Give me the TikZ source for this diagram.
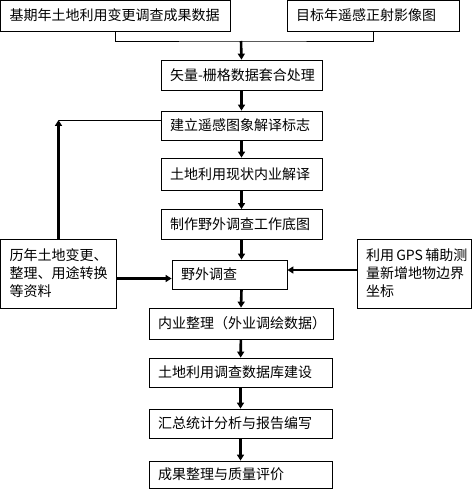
\documentclass[tikz,border=0pt]{standalone}
\usepackage{fontspec}
\newfontfamily\cjk{Noto Sans CJK SC}
\usepackage{tikz}
\usetikzlibrary{arrows.meta}

\tikzset{
  box/.style={draw, rectangle, line width=0.8pt, font=\cjk\fontsize{14}{18}\selectfont,
    align=left, inner xsep=9pt, inner ysep=0pt, minimum height=30pt},
  flow/.style={-{Triangle[length=6pt,width=7pt]}, line width=2.6pt},
  link/.style={line width=0.8pt}
}

\begin{document}
\begin{tikzpicture}[x=1pt, y=-1pt]
        \useasboundingbox (0,0) rectangle (472,489);

        \node[box, text width=212pt, minimum height=31pt] (base) at (115.5,15.5) {基期年土地利用变更调查成果数据};
        \node[box, text width=154pt, minimum height=31pt] (image) at (373,15.5) {目标年遥感正射影像图};
        \node[box, text width=143pt] (overlay) at (241.5,75) {\mbox{矢量-栅格数据套合处理}};
        \node[box, text width=143pt, minimum height=29pt] (sign) at (241.5,125.5) {建立遥感图象解译标志};
        \node[box, text width=143pt, minimum height=32pt] (interp) at (241.5,174) {土地利用现状内业解译};
        \node[box, text width=143pt] (basemap) at (241.5,224.5) {制作野外调查工作底图};
        \node[box, text width=97pt, minimum height=29pt] (field) at (229.5,274.5) {野外调查};
        \node[box, text width=98pt, minimum height=69pt] (history) at (58.5,273.5) {历年土地变更、\\整理、用途转换\\等资料};
        \node[box, text width=96pt, minimum height=69pt] (gps) at (414,273.5) {利用\,GPS\,辅助测\\量新增地物边界\\坐标};
        \node[box, text width=166pt, minimum height=31pt] (office) at (241,323.5) {内业整理（外业调绘数据）};
        \node[box, text width=165pt, minimum height=29pt] (db) at (240.5,372.5) {土地利用调查数据库建设};
        \node[box, text width=165pt, minimum height=29pt] (report) at (240.5,423.5) {汇总统计分析与报告编写};
        \node[box, text width=165pt, minimum height=27pt] (result) at (240.5,474.5) {成果整理与质量评价};

        \coordinate (join) at (241,41);
        \coordinate (turn) at (58.5,120);

        % two sources -> overlay
        \draw[link] (base.south) |- (join) -| (image.south);
        \draw[flow] (join) -- (overlay.north);

        % main chain
        \draw[flow] (overlay) -- (sign);
        \draw[flow] (sign) -- (interp);
        \draw[flow] (interp) -- (basemap);
        \draw[flow] (basemap.south) -- (basemap.south |- field.north);
        \draw[flow] (field.south -| basemap.south) -- (office.north);
        \draw[flow] (office) -- (db);
        \draw[flow] (db) -- (report);
        \draw[flow] (report) -- (result);

        % history -> sign
        \draw[flow] (history.north) -- (turn);
        \draw[link] (turn) -- (turn -| sign.west);

        % side inputs -> field
        \draw[flow] ([yshift=-5pt]history.east) -- ([yshift=-5pt]history.east -| field.west);
        \draw[flow] ([yshift=3.5pt]gps.west) -- ([yshift=3.5pt]gps.west -| field.east);
    \end{tikzpicture}
\end{document}
